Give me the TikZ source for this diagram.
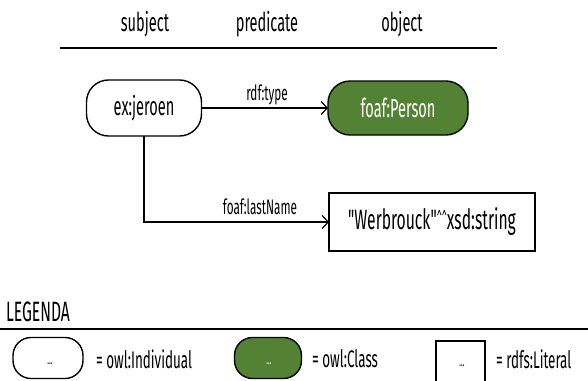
\documentclass[tikz,border=0pt]{standalone}
\usepackage{fontspec}
\setmainfont{Fira Sans}[FakeStretch=0.56]
% same face without the TeX quote mapping, for straight double quotes
\newfontfamily\straightq{Fira Sans}[FakeStretch=0.56]
\usetikzlibrary{arrows.meta}
\definecolor{classgreen}{RGB}{84,130,53}
\tikzset{
  every node/.style={inner sep=0pt, outer sep=0pt},
  head/.style={font=\fontsize{26}{28}\selectfont},
  individual/.style={draw, line width=1.4pt, fill=white, rounded corners=22pt,
    minimum width=115pt, minimum height=56pt, font=\fontsize{26}{28}\selectfont},
  classnode/.style={draw, line width=1.4pt, fill=classgreen, text=white, rounded corners=22pt,
    minimum width=140pt, minimum height=54pt, font=\fontsize{26}{28}\selectfont},
  literal/.style={draw, line width=1.2pt, fill=white,
    minimum width=206pt, minimum height=58pt, font=\fontsize{28}{30}\selectfont},
  edgelabel/.style={font=\fontsize{21}{23}\selectfont},
  link/.style={line width=1.2pt, -{Straight Barb[length=6pt,width=13pt,line width=1.2pt]}},
  rule/.style={line width=1.8pt},
  legtext/.style={anchor=west, font=\fontsize{24}{26}\selectfont},
  dots/.style={font=\fontsize{13}{14}\selectfont},
}
\begin{document}
\begin{tikzpicture}[x=1pt, y=-1pt]
\useasboundingbox (0,0) rectangle (588,380);

% column headings
\node[head] (hsubj) at (145,24) {subject};
\node[head] (hpred) at (267,24) {predicate};
\node[head] (hobj)  at (402,24) {object};
\coordinate (ruleL) at (60,48);
\coordinate (ruleR) at (497,48);
\draw[rule] (ruleL) -- (ruleR);

% triples
\node[individual] (jeroen) at (144,108) {ex:jeroen};
\node[classnode]  (person) at (398,108) {foaf:Person};
\node[literal]    (name)   at (432,222) {{\straightq "Werbrouck"}\raisebox{0.35ex}{\scalebox{0.6}{\textasciicircum\textasciicircum}}xsd:string};

\draw[link] (jeroen.east) -- (person.west);
\node[edgelabel] (ltype) at (267,95) {rdf:type};
\draw[link] (jeroen.south) |- (name.west);
\node[edgelabel] (lname) at (260,207) {foaf:lastName};

% legend
\node[font=\fontsize{28}{30}\selectfont, anchor=west] (legenda) at (6,312) {LEGENDA};
\coordinate (legL) at (0,329);
\coordinate (legR) at (588,329);
\draw[rule] (legL) -- (legR);

\node[individual, minimum width=70pt, minimum height=41pt, rounded corners=18pt] (kind) at (48,358) {};
\node[dots] (kinddots) at (50,364) {...};
\node[legtext] (tind) at (96,359) {= owl:Individual};

\node[classnode, minimum width=67pt, minimum height=41pt, rounded corners=18pt] (kclass) at (268,358) {};
\node[dots, text=white] (kclassdots) at (269,364) {...};
\node[legtext] (tclass) at (312,359) {= owl:Class};

\node[literal, minimum width=49pt, minimum height=44pt] (klit) at (460.5,363) {};
\node[dots] (klitdots) at (462,366) {...};
\node[legtext] (tlit) at (496,359) {= rdfs:Literal};
\end{tikzpicture}
\end{document}
